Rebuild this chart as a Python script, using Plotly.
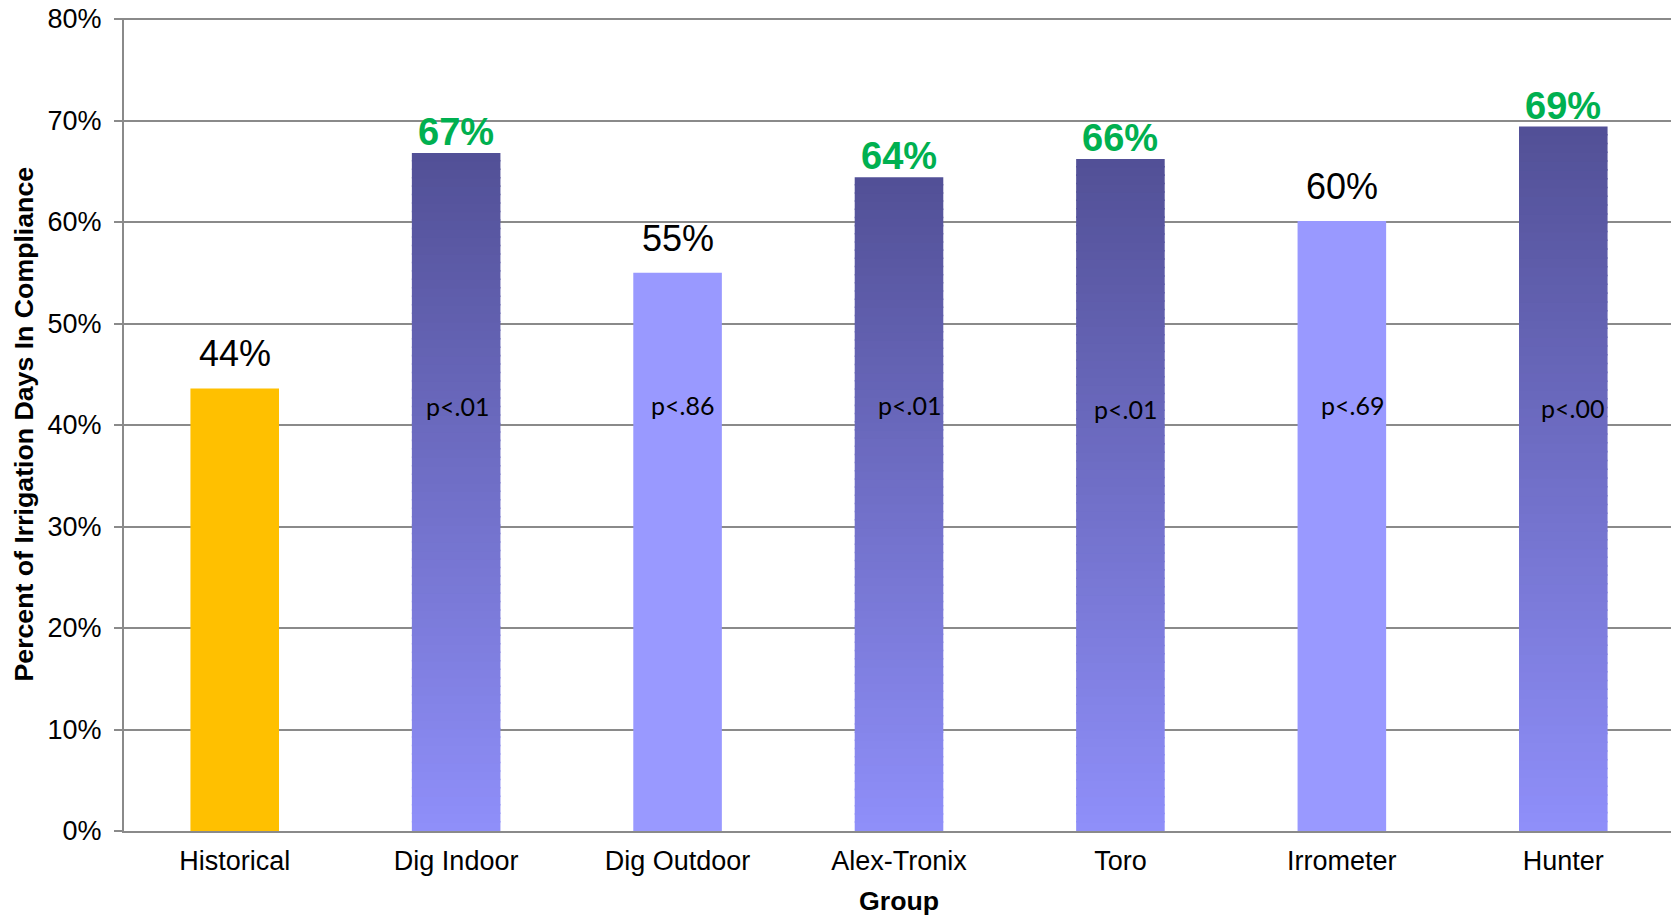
import plotly.graph_objects as go

categories = ["Historical", "Dig Indoor", "Dig Outdoor", "Alex-Tronix", "Toro", "Irrometer", "Hunter"]
values = [43.6, 66.8, 55.0, 64.4, 66.2, 60.1, 69.4]
value_labels = ["44%", "67%", "55%", "64%", "66%", "60%", "69%"]
significant = [False, True, False, True, True, False, True]
p_labels = ["", "p<.01", "p<.86", "p<.01", "p<.01", "p<.69", "p<.00"]
p_label_y = [None, 41.9, 42.0, 42.0, 41.6, 42.0, 41.7]
p_xshift = [0, 1, 5, 10, 5, 11, 9]
y_tick_values = [0, 10, 20, 30, 40, 50, 60, 70, 80]
y_tick_labels = ["0%", "10%", "20%", "30%", "40%", "50%", "60%", "70%", "80%"]

ORANGE = "#FFC000"
LIGHT = "#9999FF"
TOP = (82, 80, 150)
BOTTOM = (143, 143, 250)
GREEN = "#00B050"
BAR_W = 0.4
AXIS_GRAY = "#8a8a8a"

fig = go.Figure()

# solid bars (historical + non-significant)
solid_x, solid_y, solid_c = [], [], []
for c, v, s in zip(categories, values, significant):
    if not s:
        solid_x.append(c)
        solid_y.append(v)
        solid_c.append(ORANGE if c == "Historical" else LIGHT)
fig.add_trace(go.Bar(x=solid_x, y=solid_y, width=BAR_W, marker=dict(color=solid_c, line=dict(width=0)),
                     showlegend=False, hoverinfo="skip"))

# gradient bars built from stacked slices of each value
N = 80
g_x = [c for c, s in zip(categories, significant) if s]
g_v = [v for v, s in zip(values, significant) if s]
for k in range(N):
    t = (k + 0.5) / N
    col = "rgb(%d,%d,%d)" % tuple(round(BOTTOM[i] + (TOP[i] - BOTTOM[i]) * t) for i in range(3))
    bases = [v * k / N for v in g_v]
    heights = [min(v * (k + 1) / N + 0.15, v) - v * k / N for v in g_v]
    fig.add_trace(go.Bar(x=g_x, y=heights, base=bases, width=BAR_W,
                         marker=dict(color=col, line=dict(width=0)),
                         showlegend=False, hoverinfo="skip"))

annotations = []
for c, v, lab, s in zip(categories, values, value_labels, significant):
    annotations.append(dict(
        x=c, y=v, text=lab, showarrow=False, yanchor="bottom",
        yshift=-2 if s else 12,
        font=dict(family="Liberation Sans", size=38 if s else 36,
                  color=GREEN if s else "black", weight="bold" if s else "normal")))
for c, p, py, dx in zip(categories, p_labels, p_label_y, p_xshift):
    if p:
        annotations.append(dict(x=c, y=py, text=p, showarrow=False, yanchor="middle", xshift=dx,
                                font=dict(family="Lato", size=25, color="black")))

# axis titles
annotations.append(dict(xref="paper", yref="paper", x=0.5, y=0, yshift=-70, yanchor="middle",
                        text="<b>Group</b>", showarrow=False,
                        font=dict(family="Liberation Sans", size=26.7, color="black")))
annotations.append(dict(xref="paper", yref="paper", x=0, y=0.5, xshift=-101, xanchor="center",
                        text="<b>Percent of Irrigation Days In Compliance</b>", showarrow=False,
                        textangle=-90,
                        font=dict(family="Liberation Sans", size=26.7, color="black")))

# page body has an 8px margin, so the figure is sized/offset to fit the 1679x915 window
fig.update_layout(
    width=1671, height=907,
    margin=dict(l=116, r=5, t=10, b=84),
    plot_bgcolor="white", paper_bgcolor="white",
    barmode="overlay",
    annotations=annotations,
    font=dict(family="Liberation Sans", color="black"),
    xaxis=dict(
        categoryorder="array", categoryarray=categories,
        showline=True, linecolor=AXIS_GRAY, linewidth=2,
        ticks="", tickfont=dict(size=27, family="Liberation Sans", color="black"),
        ticklabelstandoff=5,
        showgrid=False, automargin=False,
    ),
    yaxis=dict(
        range=[0, 80.1], tickmode="array", tickvals=y_tick_values, ticktext=y_tick_labels,
        showline=True, linecolor=AXIS_GRAY, linewidth=2,
        ticks="outside", ticklen=8, tickcolor=AXIS_GRAY, tickwidth=2,
        ticklabelstandoff=7, ticklabeloverflow="allow",
        showgrid=True, gridcolor=AXIS_GRAY, gridwidth=1.8,
        tickfont=dict(size=27, family="Liberation Sans", color="black"),
        zeroline=False, automargin=False,
    ),
)

fig.write_html("out.html")
